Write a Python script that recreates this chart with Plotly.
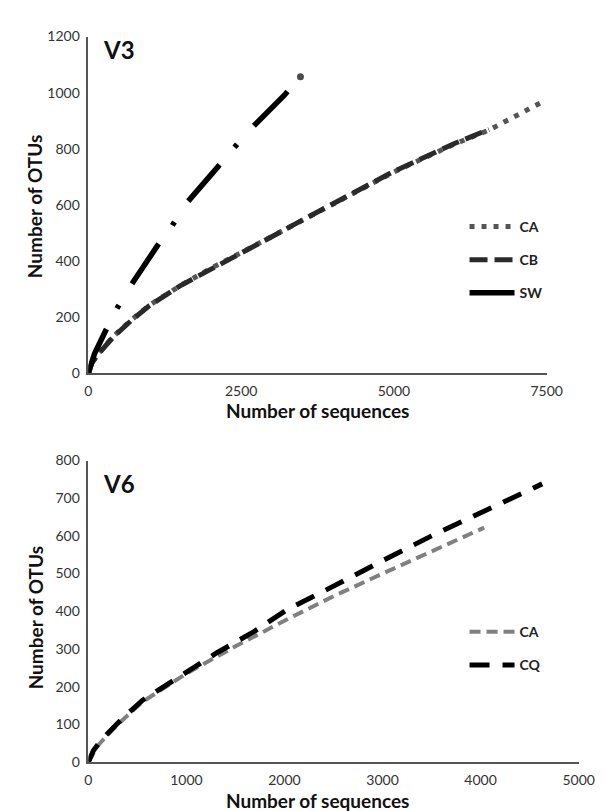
import plotly.graph_objects as go

# ---------- data: V3 panel ----------
v3_ca_x = [0, 50, 160, 400, 700, 1000, 1500, 2000, 2500, 3000, 3500, 4000, 4500, 5000, 5500, 6000, 6555, 7000, 7463]
v3_ca_y = [0, 36, 70, 130, 190, 243, 312, 374, 430, 488, 546, 604, 662, 718, 768, 818, 867, 920, 971]
v3_cb_x = [0, 50, 160, 400, 700, 1000, 1500, 2000, 2500, 3000, 3500, 4000, 4500, 5000, 5500, 6000, 6555]
v3_cb_y = [0, 35, 68, 128, 188, 242, 312, 372, 428, 487, 546, 605, 663, 720, 770, 820, 869]
v3_sw_x = [0, 100, 300, 478, 700, 1127, 1373, 1600, 2115, 2369, 2642, 3207, 3470]
v3_sw_y = [0, 70, 160, 235, 315, 454, 527, 605, 735, 800, 868, 991, 1057]

# ---------- data: V6 panel ----------
v6_ca_x = [0, 100, 300, 553, 1000, 1500, 2000, 2500, 3000, 3500, 4037]
v6_ca_y = [0, 45, 100, 160, 235, 307, 375, 440, 500, 560, 622]
v6_cq_x = [0, 50, 136, 364, 553, 1008, 1311, 1689, 2030, 2278, 2706, 3000, 3500, 4000, 4628]
v6_cq_y = [0, 30, 60, 120, 164, 238, 290, 346, 405, 437, 496, 534, 600, 662, 738]

v3_xticks = [0, 2500, 5000, 7500]
v3_yticks = [0, 200, 400, 600, 800, 1000, 1200]
v6_xticks = [0, 1000, 2000, 3000, 4000, 5000]
v6_yticks = [0, 100, 200, 300, 400, 500, 600, 700, 800]

W, H = 605, 811
FONT = "Lato"

def px_x(p):
    return p / W

def px_y(p):
    return 1 - p / H

fig = go.Figure()

# top panel traces
fig.add_trace(go.Scatter(x=v3_ca_x, y=v3_ca_y, name="CA", mode="lines", xaxis="x", yaxis="y",
                         line=dict(color="#555555", width=5, dash="5px,7px"), legend="legend"))
fig.add_trace(go.Scatter(x=v3_cb_x, y=v3_cb_y, name="CB", mode="lines", xaxis="x", yaxis="y",
                         line=dict(color="#2a2a2a", width=5, dash="18px,7px"), legend="legend"))
# SW: long-dash/dot line; the curve's final point is shown as a round dot
sw_marker_sizes = [0] * (len(v3_sw_x) - 1) + [7]
fig.add_trace(go.Scatter(x=v3_sw_x, y=v3_sw_y, name="SW", mode="lines+markers", xaxis="x", yaxis="y",
                         line=dict(color="#000000", width=5.5, dash="48px,23px,4px,25px", simplify=False),
                         marker=dict(size=sw_marker_sizes, color="#000000", line=dict(width=0)),
                         legend="legend"))

# bottom panel traces
fig.add_trace(go.Scatter(x=v6_ca_x, y=v6_ca_y, name="CA", mode="lines", xaxis="x2", yaxis="y2",
                         line=dict(color="#808080", width=4, dash="11px,6px"), legend="legend2"))
fig.add_trace(go.Scatter(x=v6_cq_x, y=v6_cq_y, name="CQ", mode="lines", xaxis="x2", yaxis="y2",
                         line=dict(color="#000000", width=5, dash="20px,13px"), legend="legend2"))

axis_common = dict(showgrid=False, zeroline=False, showline=True, linecolor="#555555", linewidth=1.5,
                   ticks="outside", ticklen=4, tickcolor="rgba(0,0,0,0)",
                   tickfont=dict(family=FONT, size=14, color="#333333"), fixedrange=True)

legend_common = dict(xanchor="left", yanchor="top", bgcolor="rgba(0,0,0,0)",
                     font=dict(family=FONT, size=14, color="#222222", weight="bold"),
                     tracegroupgap=12, itemwidth=45)

fig.update_layout(
    width=W, height=H,
    margin=dict(l=0, r=0, t=0, b=0),
    paper_bgcolor="white", plot_bgcolor="white",
    font=dict(family=FONT),
    xaxis=dict(domain=[px_x(79), px_x(553)], range=[0, 7500], tickvals=v3_xticks, anchor="y", **axis_common),
    yaxis=dict(domain=[px_y(364), px_y(20)], range=[0, 1200], tickvals=v3_yticks, anchor="x", **axis_common),
    xaxis2=dict(domain=[px_x(79), px_x(586)], range=[0, 5000], tickvals=v6_xticks, anchor="y2", **axis_common),
    yaxis2=dict(domain=[px_y(761), px_y(453)], range=[0, 800], tickvals=v6_yticks, anchor="x2", **axis_common),
    legend=dict(x=px_x(468), y=px_y(198), **legend_common),
    legend2=dict(x=px_x(468), y=px_y(612), **legend_common),
    showlegend=True,
)

# give each trace its own legend group so the group gap spaces the items
for i, tr in enumerate(fig.data):
    tr.legendgroup = f"g{i}"

ann = []
ann.append(dict(text="<b>V3</b>", x=px_x(92), y=px_y(33), xref="paper", yref="paper", xanchor="left",
                yanchor="middle", showarrow=False, font=dict(family=FONT, size=24, color="#111111")))
ann.append(dict(text="<b>V6</b>", x=px_x(92), y=px_y(476), xref="paper", yref="paper", xanchor="left",
                yanchor="middle", showarrow=False, font=dict(family=FONT, size=24, color="#111111")))
ann.append(dict(text="<b>Number of sequences</b>", x=px_x(316), y=px_y(402), xref="paper", yref="paper",
                xanchor="center", yanchor="middle", showarrow=False, font=dict(family=FONT, size=19, color="#111111")))
ann.append(dict(text="<b>Number of sequences</b>", x=px_x(316), y=px_y(800), xref="paper", yref="paper",
                xanchor="center", yanchor="middle", showarrow=False, font=dict(family=FONT, size=19, color="#111111")))
ann.append(dict(text="<b>Number of OTUs</b>", x=px_x(24), y=px_y(194), xref="paper", yref="paper", textangle=-90,
                xanchor="center", yanchor="middle", showarrow=False, font=dict(family=FONT, size=19, color="#111111")))
ann.append(dict(text="<b>Number of OTUs</b>", x=px_x(24), y=px_y(614), xref="paper", yref="paper", textangle=-90,
                xanchor="center", yanchor="middle", showarrow=False, font=dict(family=FONT, size=19, color="#111111")))
fig.update_layout(annotations=ann)

fig.write_html("out.html")
